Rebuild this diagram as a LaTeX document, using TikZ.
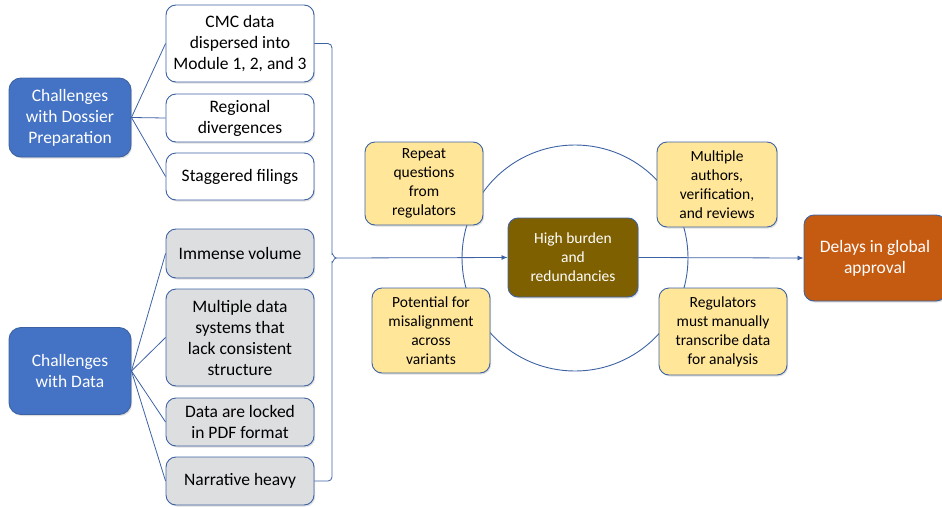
\documentclass[tikz,border=0pt]{standalone}
\usepackage{fontspec}
\setmainfont{Carlito}
\usetikzlibrary{arrows.meta,shadows}
\definecolor{lineblue}{HTML}{3D62A3}
\definecolor{boxblue}{HTML}{4472C4}
\definecolor{boxgray}{HTML}{DDDEE0}
\definecolor{boxyellow}{HTML}{FFE699}
\definecolor{olive}{HTML}{7F6000}
\definecolor{rust}{HTML}{C55A11}
\tikzset{
  base/.style={draw=lineblue, line width=0.9pt, rounded corners=10pt, align=center, inner sep=0pt,
    drop shadow={shadow xshift=1.2pt, shadow yshift=-1.5pt, opacity=0.25}},
  bigtxt/.style={font=\fontsize{17.5}{21}\selectfont},
  smalltxt/.style={font=\fontsize{15.5}{19}\selectfont},
  catbox/.style={base, bigtxt, fill=boxblue, text=white, rounded corners=12pt, minimum width=122pt},
  whitebox/.style={base, bigtxt, fill=white, minimum width=148pt},
  graybox/.style={base, bigtxt, fill=boxgray, minimum width=148pt},
  yellowbox/.style={base, smalltxt, fill=boxyellow},
  conn/.style={draw=lineblue, line width=0.8pt},
  arr/.style={conn, -{Latex[length=6pt,width=5pt]}}
}
\begin{document}
\begin{tikzpicture}[x=1pt,y=-1pt]
\useasboundingbox (0,0) rectangle (942,506);
% circle behind
\node[draw=lineblue, line width=0.9pt, circle, minimum size=226pt, inner sep=0pt] (ring) at (575,258) {};
% left category boxes
\node[catbox, minimum height=79pt] (dossier) at (70,117.5) {Challenges\\with Dossier\\Preparation};
\node[catbox, minimum height=87pt] (data) at (70,371) {Challenges\\with Data};
% white boxes
\node[whitebox, minimum height=77pt] (cmc) at (240,43.5) {CMC data\\dispersed into\\Module 1, 2, and 3};
\node[whitebox, minimum height=48pt] (regional) at (240,118) {Regional\\divergences};
\node[whitebox, minimum height=47pt] (stag) at (240,176.5) {Staggered filings};
% gray boxes
\node[graybox, minimum height=49pt] (immense) at (240,253.5) {Immense volume};
\node[graybox, minimum height=97pt] (systems) at (240,337.5) {Multiple data\\systems that\\lack consistent\\structure};
\node[graybox, minimum height=48pt] (locked) at (240,422) {Data are locked\\in PDF format};
\node[graybox, minimum height=48pt] (narr) at (240,481) {Narrative heavy};
% yellow boxes
\node[yellowbox, minimum width=118pt, minimum height=83pt] (repeat) at (424,183.5) {Repeat\\questions\\from\\regulators};
\node[yellowbox, minimum width=118pt, minimum height=85pt] (potential) at (431,330.5) {Potential for\\misalignment\\across\\variants};
\node[yellowbox, minimum width=120pt, minimum height=85pt] (authors) at (717,184.5) {Multiple\\authors,\\verification,\\and reviews};
\node[yellowbox, minimum width=128pt, minimum height=87pt] (regs) at (723,331.5) {Regulators\\must manually\\transcribe data\\for analysis};
% center and result
\node[base, smalltxt, fill=olive, text=white, minimum width=130pt, minimum height=79pt] (hb) at (573,257.5) {High burden\\and\\redundancies};
\node[base, bigtxt, fill=rust, text=white, minimum width=142pt, minimum height=86pt] (delays) at (875,258) {Delays in global\\approval};
% left connectors
\foreach \t in {cmc,regional,stag} \draw[conn] (dossier.east) -- (\t.west);
\foreach \t in {immense,systems,locked,narr} \draw[conn] (data.east) -- (\t.west);
% bracket
\coordinate (tip) at (336,258);
\draw[conn] (cmc.east) -- (328,43.5) to[out=0,in=90] (332,48) -- (332,254) to[out=90,in=180] (tip)
  to[out=180,in=-90] (332,262) -- (332,477) to[out=-90,in=0] (328,481) -- (narr.east);
\draw[arr] (tip) -- (hb.west);
\draw[arr] (hb.east) -- (delays.west);
\end{tikzpicture}
\end{document}
